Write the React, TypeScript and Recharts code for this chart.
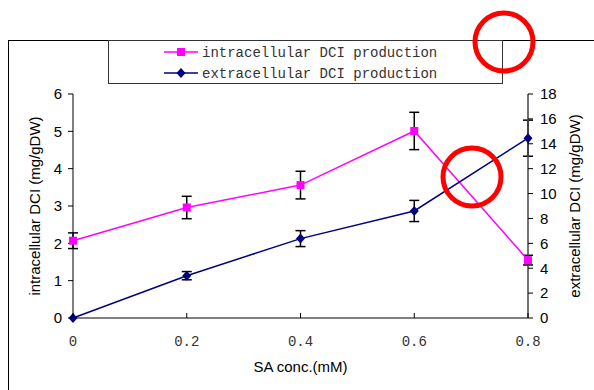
import React from "react";
import {
  LineChart,
  Line,
  XAxis,
  YAxis,
  ErrorBar,
  Legend,
} from "recharts";

// SA concentration (mM)
const saConc = [0, 0.2, 0.4, 0.6, 0.8];
// intracellular DCI production (mg/gDW), left axis
const intracellular = [2.07, 2.96, 3.56, 5.01, 1.55];
const intracellularErr = [0.21, 0.3, 0.37, 0.5, 0.13];
// extracellular DCI production (mg/gDW), right axis
const extracellular = [0, 3.4, 6.38, 8.6, 14.45];
const extracellularErr = [0, 0.33, 0.64, 0.85, 1.45];

const leftTicks = [0, 1, 2, 3, 4, 5, 6];
const rightTicks = [0, 2, 4, 6, 8, 10, 12, 14, 16, 18];

const seriesNames = ["intracellular DCI production", "extracellular DCI production"];
const seriesColors = ["#FF00FF", "#000080"];

const data = saConc.map((x, i) => ({
  x,
  inVal: intracellular[i],
  inErr: intracellularErr[i],
  exVal: extracellular[i],
  exErr: extracellularErr[i],
}));

const SquareDot = (props: any) => {
  const { cx, cy, index } = props;
  return <rect key={`sq-${index}`} x={cx - 4} y={cy - 4} width={8} height={8} fill={seriesColors[0]} />;
};

const DiamondDot = (props: any) => {
  const { cx, cy, index } = props;
  return (
    <polygon
      key={`dm-${index}`}
      points={`${cx},${cy - 5} ${cx + 4.5},${cy} ${cx},${cy + 5} ${cx - 4.5},${cy}`}
      fill={seriesColors[1]}
    />
  );
};

const XTick = (props: any) => {
  const { x, y, payload } = props;
  return (
    <g>
      <line x1={x} x2={x} y1={y} y2={y - 5} stroke="#000" />
      <text
        x={x}
        y={y + 28}
        textAnchor="middle"
        fontFamily="Liberation Mono"
        fontSize={14}
        fill="#333"
      >
        {Number(payload.value).toFixed(payload.value === 0 ? 0 : 1)}
      </text>
    </g>
  );
};

const LegendBox = () => (
  <svg width={395} height={44} style={{ display: "block", background: "#fff" }}>
    <rect x={0.5} y={0.5} width={394} height={43} fill="#fff" stroke="#333" />
    {seriesNames.map((name, i) => {
      const cy = 12 + i * 21;
      return (
        <g key={name}>
          <line x1={56} x2={90} y1={cy} y2={cy} stroke={seriesColors[i]} strokeWidth={1.5} />
          {i === 0 ? (
            <rect x={69} y={cy - 4} width={8} height={8} fill={seriesColors[0]} />
          ) : (
            <polygon
              points={`73,${cy - 5} 77.5,${cy} 73,${cy + 5} 68.5,${cy}`}
              fill={seriesColors[1]}
            />
          )}
          <text x={94} y={cy + 5} fontFamily="Liberation Mono" fontSize={14} fill="#333">
            {name}
          </text>
        </g>
      );
    })}
  </svg>
);

export default function App() {
  return (
    <div
      style={{
        position: "absolute",
        left: 0,
        top: 0,
        width: 594,
        height: 390,
        background: "#fff",
        overflow: "hidden",
      }}
    >
      <div
        style={{
          position: "absolute",
          left: 8,
          top: 40,
          width: 640,
          height: 420,
          border: "1px solid #000",
        }}
      />
      <LineChart
        width={594}
        height={390}
        data={data}
        margin={{ top: 94, right: 0, bottom: 0, left: 0 }}
        style={{ position: "absolute", left: 0, top: 0 }}
      >
        <XAxis
          dataKey="x"
          type="number"
          domain={[0, 0.8]}
          ticks={saConc}
          height={72}
          axisLine={{ stroke: "#000" }}
          tickLine={false}
          tickSize={0}
          tickMargin={0}
          tick={<XTick />}
          label={{
            value: "SA conc.(mM)",
            position: "insideBottom",
            offset: 18,
            style: { fontFamily: "Liberation Sans", fontSize: 15, fill: "#000" },
          }}
        />
        <YAxis
          yAxisId="left"
          domain={[0, 6]}
          ticks={leftTicks}
          width={73}
          axisLine={{ stroke: "#000" }}
          tickLine={{ stroke: "#000" }}
          tickSize={5}
          tickMargin={6}
          tick={{ fontFamily: "Liberation Sans", fontSize: 15, fill: "#000" }}
          label={{
            value: "intracellular DCI (mg/gDW)",
            angle: -90,
            position: "center",
            dx: -2,
            style: { fontFamily: "Liberation Sans", fontSize: 15, fill: "#000", textAnchor: "middle" },
          }}
        />
        <YAxis
          yAxisId="right"
          orientation="right"
          domain={[0, 18]}
          ticks={rightTicks}
          width={66}
          axisLine={{ stroke: "#444", strokeWidth: 1.5 }}
          tickLine={{ stroke: "#000" }}
          tickSize={5}
          tickMargin={7}
          tick={{ fontFamily: "Liberation Sans", fontSize: 15, fill: "#000" }}
          label={{
            value: "extracellular DCI (mg/gDW)",
            angle: -90,
            position: "center",
            dx: 14,
            style: { fontFamily: "Liberation Sans", fontSize: 15, fill: "#000", textAnchor: "middle" },
          }}
        />
        <Legend
          verticalAlign="middle"
          content={<LegendBox />}
          wrapperStyle={{ left: 108, top: 40, width: 395, height: 44 }}
        />
        <Line
          yAxisId="left"
          dataKey="inVal"
          name={seriesNames[0]}
          stroke={seriesColors[0]}
          strokeWidth={1.5}
          dot={SquareDot}
          activeDot={false}
          isAnimationActive={false}
        >
          <ErrorBar dataKey="inErr" direction="y" width={5} stroke="#000" strokeWidth={1.5} />
        </Line>
        <Line
          yAxisId="right"
          dataKey="exVal"
          name={seriesNames[1]}
          stroke={seriesColors[1]}
          strokeWidth={1.5}
          dot={DiamondDot}
          activeDot={false}
          isAnimationActive={false}
        >
          <ErrorBar dataKey="exErr" direction="y" width={5} stroke="#000" strokeWidth={1.5} />
        </Line>
      </LineChart>
      <svg
        width={594}
        height={390}
        style={{ position: "absolute", left: 0, top: 0, pointerEvents: "none" }}
      >
        <circle cx={504} cy={42} r={29} fill="none" stroke="#FF0000" strokeWidth={5} />
        <circle cx={472} cy={177} r={29} fill="none" stroke="#FF0000" strokeWidth={5} />
      </svg>
    </div>
  );
}
